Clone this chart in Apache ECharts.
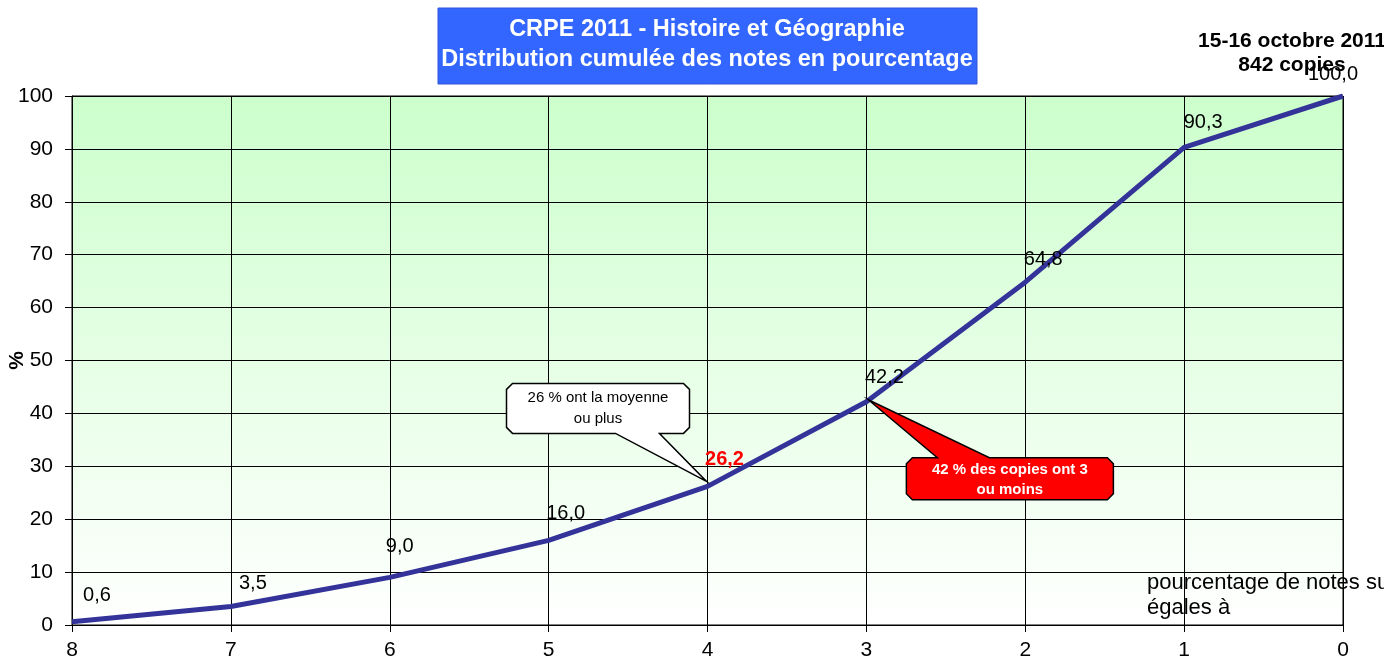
<!DOCTYPE html>
<html>
<head>
<meta charset="utf-8">
<script src="https://cdn.jsdelivr.net/npm/echarts@6/dist/echarts.min.js"></script>
<style>
	html, body { margin: 0; padding: 0; background: #fff; }
	#chart { width: 1384px; height: 663px; }
</style>
</head>
<body>
<div id="chart"></div>
<script>
// notes (x axis, from 8 down to 0)
var notes = ['8', '7', '6', '5', '4', '3', '2', '1', '0'];
// cumulated percentage of copies
var cumulPct = [0.6, 3.5, 9.0, 16.0, 26.2, 42.2, 64.8, 90.3, 100.0];
var yTicks = [0, 10, 20, 30, 40, 50, 60, 70, 80, 90, 100];
var titleLines = ['CRPE 2011 - Histoire et Géographie', 'Distribution cumulée des notes en pourcentage'];
var infoLines = ['15-16 octobre 2011', '842 copies'];
var xAxisNote = ['pourcentage de notes supérieures ou', 'égales à'];
var highlightIndex = 4;
var noteWhite = ['26 % ont la moyenne', 'ou plus'];
var noteRed = ['42 % des copies ont 3', 'ou moins'];

var FONT = '"Liberation Sans", Arial, sans-serif';

/**
 * Chamfered box with a pointer tail
 */
function bubblePoints(l, t, r, b, c, tail, onTop) {
	if (onTop) {
		return [[l + c, t], [tail[0], t], tail[2], [tail[1], t], [r - c, t], [r, t + c],
			[r, b - c], [r - c, b], [l + c, b], [l, b - c], [l, t + c]];
	}
	return [[l + c, t], [r - c, t], [r, t + c], [r, b - c], [r - c, b],
		[tail[1], b], tail[2], [tail[0], b], [l + c, b], [l, b - c], [l, t + c]];
}

function drawChart(id) {
	var chart = echarts.init(document.getElementById(id));
	// label centre offsets from each point (pixels)
	var labelOffsets = [[25, -26], [22, -23], [10, -31], [17, -27], [17, -27],
		[18, -24], [18, -23], [19, -25], [-10, -22]];

	var seriesData = cumulPct.map(function (v, i) {
		var item = { value: v };
		if (i == highlightIndex) {
			item.label = { color: '#ff0000', fontWeight: 'bold' };
		}
		return item;
	});

	var option = {
		animation: false,
		backgroundColor: '#ffffff',
		grid: {
			left: 72, right: 41, top: 96, bottom: 38,
			containLabel: false,
			outerBoundsMode: 'none',
			show: true,
			borderColor: '#000',
			borderWidth: 1,
			backgroundColor: new echarts.graphic.LinearGradient(0, 0, 0, 1, [
				{ offset: 0, color: '#ccffcc' },
				{ offset: 1, color: '#ffffff' }
			])
		},
		xAxis: {
			type: 'category',
			data: notes,
			boundaryGap: false,
			axisLine: { lineStyle: { color: '#000', width: 1 } },
			axisTick: { show: true, length: 7, lineStyle: { color: '#000' } },
			axisLabel: { color: '#000', fontSize: 21, fontFamily: FONT, margin: 15 },
			splitLine: { show: true, lineStyle: { color: '#000', width: 1 } }
		},
		yAxis: {
			type: 'value',
			min: yTicks[0],
			max: yTicks[yTicks.length - 1],
			interval: 10,
			name: '%',
			nameLocation: 'middle',
			nameRotate: 90,
			nameGap: 44,
			nameMoveOverlap: false,
			nameTextStyle: { color: '#000', fontSize: 21, fontWeight: 'bold', fontFamily: FONT },
			axisLine: { show: true, lineStyle: { color: '#000', width: 1 } },
			axisTick: { show: true, length: 7, lineStyle: { color: '#000' } },
			axisLabel: { color: '#000', fontSize: 21, fontFamily: FONT, margin: 19 },
			splitLine: { show: true, lineStyle: { color: '#000', width: 1 } }
		},
		series: [{
			type: 'line',
			data: seriesData,
			symbol: 'circle',
			symbolSize: 1,
			showSymbol: true,
			itemStyle: { color: 'rgba(0,0,0,0)' },
			lineStyle: { color: '#333399', width: 5 },
			label: {
				show: true,
				position: 'inside',
				color: '#000',
				fontSize: 20,
				fontFamily: FONT,
				formatter: function (p) {
					return p.value.toFixed(1).replace('.', ',');
				}
			},
			labelLayout: function (params) {
				var off = labelOffsets[params.dataIndex];
				return { dx: off[0], dy: off[1], hideOverlap: false };
			},
			z: 5
		}]
	};
	chart.setOption(option);

	// annotations anchored on the data points
	var pw = chart.convertToPixel({ seriesIndex: 0 }, [highlightIndex, cumulPct[highlightIndex]]);
	var pr = chart.convertToPixel({ seriesIndex: 0 }, [5, cumulPct[5]]);
	var pLast = chart.convertToPixel({ seriesIndex: 0 }, [notes.length - 1, 0]);

	var wl = pw[0] - 201, wr = pw[0] - 18, wt = pw[1] - 103, wb = pw[1] - 53;
	var rl = pr[0] + 40, rr = pr[0] + 247, rt = pr[1] + 56, rb = pr[1] + 98;

	chart.setOption({
		graphic: [
			{
				type: 'rect',
				shape: { x: 438, y: 8, width: 539, height: 76 },
				style: { fill: '#3366ff', stroke: '#2f55d8', lineWidth: 1 },
				z: 10
			},
			{
				type: 'text',
				x: 707, y: 15,
				style: {
					text: titleLines.join('\n'),
					fill: '#fff', font: 'bold 23.5px ' + FONT,
					align: 'center', lineHeight: 30
				},
				z: 11
			},
			{
				type: 'text',
				x: 1292, y: 29,
				style: {
					text: infoLines.join('\n'),
					fill: '#000', font: 'bold 21px ' + FONT,
					align: 'center', lineHeight: 24
				},
				z: 11
			},
			{
				type: 'text',
				x: 1147, y: pLast[1] - 55,
				style: {
					text: xAxisNote.join('\n'),
					fill: '#000', font: '22px ' + FONT,
					align: 'left', lineHeight: 25
				},
				z: 11
			},
			{
				type: 'polygon',
				shape: {
					points: bubblePoints(wl, wt, wr, wb, 6,
						[pw[0] - 92, pw[0] - 48, [pw[0] - 1, pw[1] - 5]], false)
				},
				style: { fill: '#ffffff', stroke: '#000', lineWidth: 1.5 },
				z: 12
			},
			{
				type: 'text',
				x: (wl + wr) / 2, y: wt + 4,
				style: {
					text: noteWhite.join('\n'),
					fill: '#000', font: '15px ' + FONT,
					align: 'center', lineHeight: 21
				},
				z: 13
			},
			{
				type: 'polygon',
				shape: {
					points: bubblePoints(rl, rt, rr, rb, 6,
						[pr[0] + 71, pr[0] + 123, [pr[0] + 2, pr[1] - 2]], true)
				},
				style: { fill: '#ff0000', stroke: '#000', lineWidth: 1.5 },
				z: 12
			},
			{
				type: 'text',
				x: (rl + rr) / 2, y: rt + 2,
				style: {
					text: noteRed.join('\n'),
					fill: '#fff', font: 'bold 15px ' + FONT,
					align: 'center', lineHeight: 20
				},
				z: 13
			}
		]
	});
}

drawChart('chart');
</script>
</body>
</html>
